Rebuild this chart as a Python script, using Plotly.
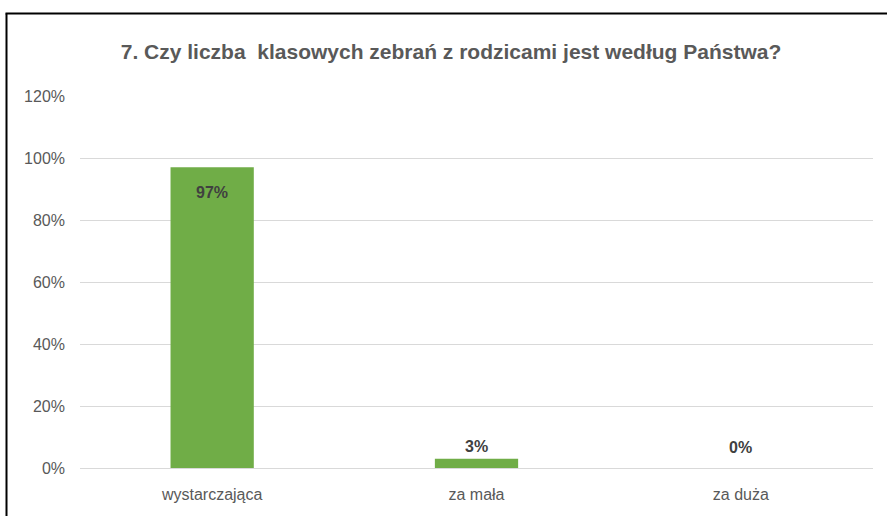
import plotly.graph_objects as go

categories = ["wystarczająca", "za mała", "za duża"]
values = [97, 3, 0]
labels = ["97%", "3%", "0%"]
tick_vals = [0, 20, 40, 60, 80, 100, 120]
tick_text = ["0%", "20%", "40%", "60%", "80%", "100%", "120%"]
title = "7. Czy liczba  klasowych zebrań z rodzicami jest według Państwa?"

FONT = "Liberation Sans, Arial, sans-serif"
GREEN = "#70AD47"
GRAY = "#595959"
label_shifts = [-25, 12, 21]

fig = go.Figure(go.Bar(
    x=categories, y=values, marker=dict(color=GREEN, line=dict(width=0)),
    width=0.315, hoverinfo="skip",
))

for c, v, t, s in zip(categories, values, labels, label_shifts):
    fig.add_annotation(
        x=c, y=v, text="<b>%s</b>" % t, showarrow=False,
        yanchor="middle", yshift=s,
        font=dict(family=FONT, size=16, color="#404040"),
    )

fig.update_layout(
    width=887, height=516,
    margin=dict(l=80, r=14, t=96, b=48),
    paper_bgcolor="white", plot_bgcolor="white",
    showlegend=False,
    font=dict(family=FONT, color=GRAY, size=16),
    title=dict(text="<b>" + title + "</b>", x=451 / 887, xanchor="center",
               y=1 - 52 / 516, yanchor="middle", xref="container", yref="container",
               font=dict(family=FONT, size=21, color=GRAY)),
)
fig.update_yaxes(range=[0, 120], tickvals=tick_vals, ticktext=tick_text,
                 showgrid=True, gridcolor="#D9D9D9", gridwidth=1,
                 zeroline=False, showline=False, ticks="",
                 ticklabelstandoff=14,
                 tickfont=dict(family=FONT, size=16, color=GRAY))
fig.update_xaxes(showline=True, linecolor="#D9D9D9", linewidth=1, ticks="",
                 showgrid=False,
                 tickfont=dict(family=FONT, size=16, color=GRAY),
                 ticklabelstandoff=12)

# frame border (left and top edges of the chart area)
fig.add_shape(type="line", xref="paper", yref="paper",
              x0=(6.5 - 80) / 793, x1=(6.5 - 80) / 793,
              y0=-48 / 372, y1=(468 - 13.5) / 372,
              line=dict(color="black", width=2))
fig.add_shape(type="line", xref="paper", yref="paper",
              x0=(5.5 - 80) / 793, x1=(887 - 80) / 793,
              y0=(468 - 13.5) / 372, y1=(468 - 13.5) / 372,
              line=dict(color="black", width=2))

fig.write_html("out.html", config={"displayModeBar": False},
               post_script="document.body.style.margin='0';")
